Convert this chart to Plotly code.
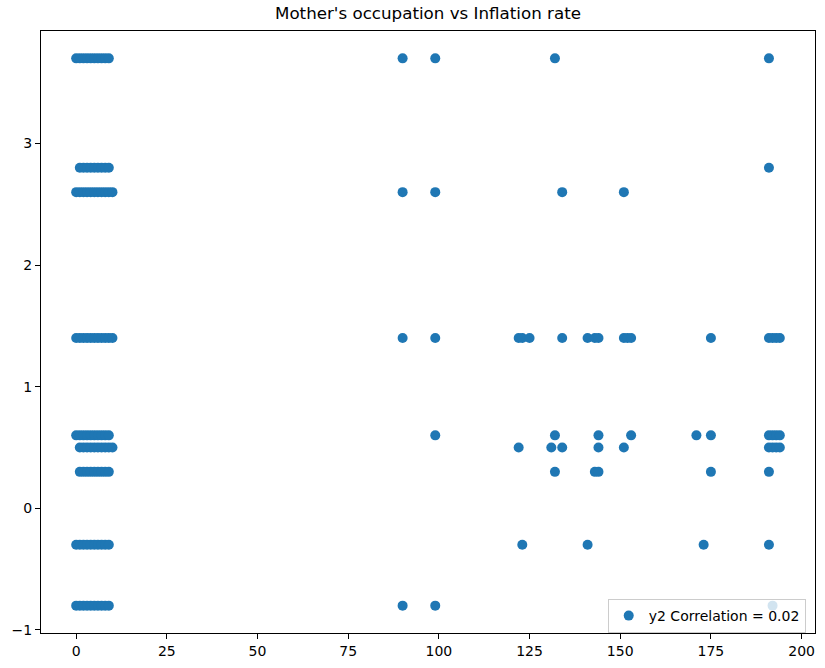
import plotly.graph_objects as go

# mother's occupation codes seen at each inflation level
occ_37 = [0, 1, 2, 3, 4, 5, 6, 7, 8, 9, 90, 99, 132, 191]
occ_28 = [1, 2, 3, 4, 5, 6, 7, 8, 9, 191]
occ_26 = [0, 1, 2, 3, 4, 5, 6, 7, 8, 9, 10, 90, 99, 134, 151]
occ_14 = [0, 1, 2, 3, 4, 5, 6, 7, 8, 9, 10, 90, 99, 122, 123, 125, 134, 141,
          143, 144, 151, 152, 153, 175, 191, 192, 193, 194]
occ_06 = [0, 1, 2, 3, 4, 5, 6, 7, 8, 9, 99, 132, 144, 153, 171, 175, 191, 192, 193, 194]
occ_05 = [1, 2, 3, 4, 5, 6, 7, 8, 9, 10, 122, 131, 134, 144, 151, 191, 192, 193, 194]
occ_03 = [1, 2, 3, 4, 5, 6, 7, 8, 9, 132, 143, 144, 175, 191]
occ_m03 = [0, 1, 2, 3, 4, 5, 6, 7, 8, 9, 123, 141, 173, 191]
occ_m08 = [0, 1, 2, 3, 4, 5, 6, 7, 8, 9, 90, 99, 192]

inflation_levels = [3.7, 2.8, 2.6, 1.4, 0.6, 0.5, 0.3, -0.3, -0.8]
occ_groups = [occ_37, occ_28, occ_26, occ_14, occ_06, occ_05, occ_03, occ_m03, occ_m08]

x = []
y = []
for level, occs in zip(inflation_levels, occ_groups):
    x.extend(occs)
    y.extend([level] * len(occs))

fig = go.Figure(go.Scatter(
    x=x, y=y,
    mode='markers',
    name='y2 Correlation = 0.02',
    marker=dict(color='#1f77b4', size=10, line=dict(width=0)),
    showlegend=True))

axis_style = dict(showgrid=False, zeroline=False, showline=True, linecolor='black',
                  linewidth=1, mirror=True, ticks='outside', ticklen=5, tickwidth=1,
                  tickcolor='black', tickfont=dict(size=14, color='black'),
                  automargin=False)

fig.update_layout(
    width=825, height=668,
    font=dict(family='DejaVu Sans', color='black'),
    title=dict(text="Mother's occupation vs Inflation rate", x=0.5, xref='paper',
               y=1 - 7 / 668, yref='container', yanchor='top', pad=dict(t=0),
               font=dict(size=16.7, color='black')),
    plot_bgcolor='white', paper_bgcolor='white',
    margin=dict(l=41, r=10, t=31, b=35),
    xaxis=dict(range=[-9.7, 203.7], tickvals=[0, 25, 50, 75, 100, 125, 150, 175, 200], **axis_style),
    yaxis=dict(range=[-1.025, 3.925], tickvals=[-1, 0, 1, 2, 3], **axis_style),
    legend=dict(x=0.988, y=0.0, xanchor='right', yanchor='bottom',
                bgcolor='rgba(255,255,255,0.8)', bordercolor='#cccccc', borderwidth=1,
                font=dict(size=14, color='black')),
)

# drop the default 8px body margin so the figure sits at the window corner
fig.write_html('out.html', config={'displayModeBar': False},
               post_script="document.body.style.margin='0';")
